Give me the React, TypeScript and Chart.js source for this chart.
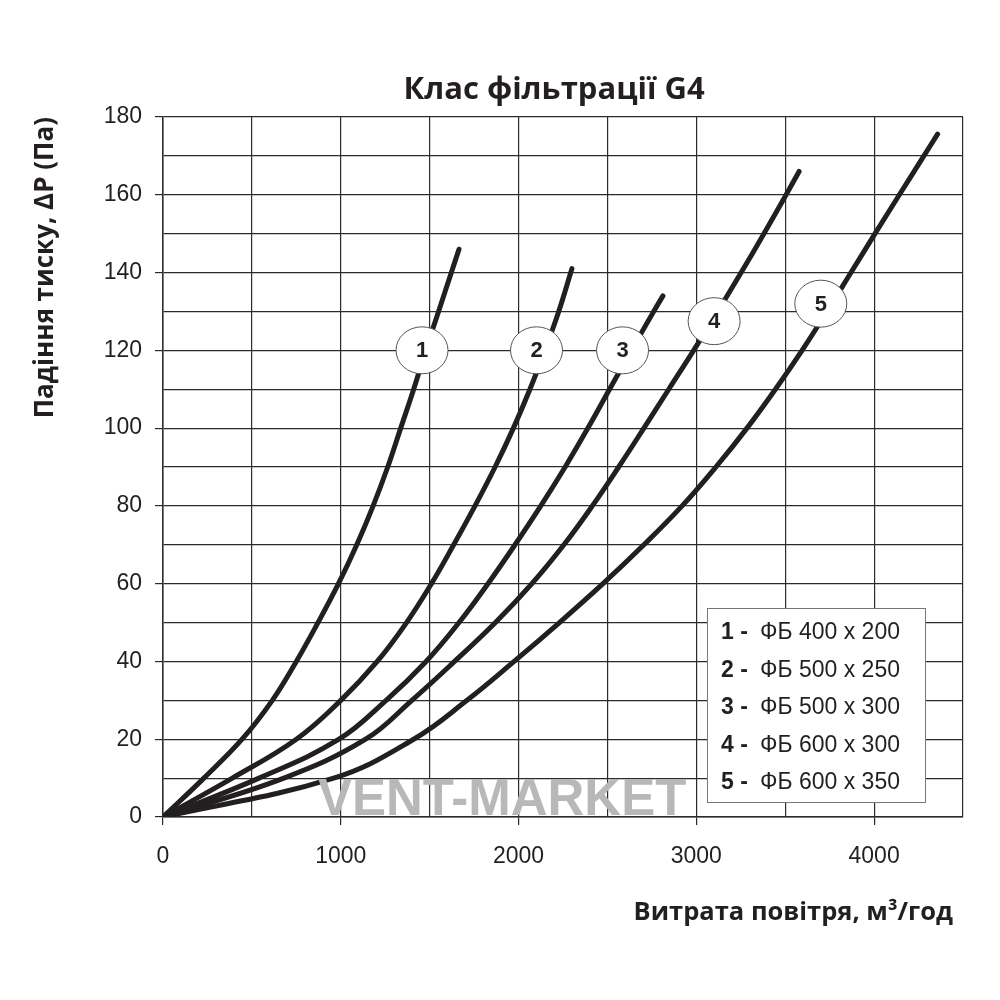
import React, { useEffect, useRef } from "react";
import { Chart, registerables } from "chart.js";

Chart.register(...registerables);

// ---- data ----
const curve1X = [0, 230, 445, 615, 750, 872, 987, 1090, 1182, 1264, 1337, 1410, 1478, 1550, 1622, 1665];
const curve1Y = [0, 10, 20, 30, 40, 50, 60, 70, 80, 90, 100, 110, 120, 130, 140, 146];

const curve2X = [0, 390, 750, 1000, 1205, 1370, 1510, 1635, 1755, 1868, 1971, 2064, 2148, 2226, 2300];
const curve2Y = [0, 10, 20, 30, 40, 50, 60, 70, 80, 90, 100, 110, 120, 130, 141];

const curve3X = [0, 540, 990, 1255, 1480, 1665, 1828, 1980, 2125, 2262, 2390, 2512, 2635, 2760, 2812];
const curve3Y = [0, 10, 20, 30, 40, 50, 60, 70, 80, 90, 100, 110, 120, 130, 134];

const curve4X = [0, 680, 1140, 1400, 1640, 1870, 2075, 2255, 2415, 2563, 2705, 2845, 2985, 3120, 3252, 3380, 3505, 3578];
const curve4Y = [0, 10, 20, 30, 40, 50, 60, 70, 80, 90, 100, 110, 120, 130, 140, 150, 160, 166];

const curve5X = [0, 960, 1410, 1710, 1975, 2230, 2475, 2705, 2920, 3110, 3285, 3445, 3595, 3735, 3870, 4005, 4142, 4280, 4357];
const curve5Y = [0, 10, 20, 30, 40, 50, 60, 70, 80, 90, 100, 110, 120, 130, 140, 150, 160, 170, 175.6];

const curvesX = [curve1X, curve2X, curve3X, curve4X, curve5X];
const curvesY = [curve1Y, curve2Y, curve3Y, curve4Y, curve5Y];

const seriesNumbers = ["1", "2", "3", "4", "5"];
const legendLabels = ["ФБ 400 х 200", "ФБ 500 х 250", "ФБ 500 х 300", "ФБ 600 х 300", "ФБ 600 х 350"];
const markerX = [1457, 2101, 2585, 3100, 3700];
const markerY = [120, 120, 120, 127.5, 132];

const chartTitle = "Клас фільтрації G4";
const xTitle = "Витрата повітря, м³/год";
const yTitle = "Падіння тиску, ΔР (Па)";
const watermarkText = "VENT-MARKET";

const xMin = 0;
const xMax = 4500;
const xGridStep = 500;
const xLabelStep = 1000;
const yMin = 0;
const yMax = 180;
const yGridStep = 10;
const yLabelStep = 20;

// ---- styles ----
const INK = "#231f20";
const GRID = "#2b2b2b";
const ARIAL = "'Liberation Sans', Arial, sans-serif";
const HEAD = "'Open Sans', 'Noto Sans', sans-serif";

const overlayPlugin = {
  id: "overlay",
  afterDraw(chart: any) {
    const { ctx, chartArea } = chart;
    const xs = chart.scales.x;
    const ys = chart.scales.y;
    ctx.save();

    // title
    ctx.fillStyle = INK;
    ctx.font = `bold 31px ${HEAD}`;
    ctx.textAlign = "center";
    ctx.textBaseline = "alphabetic";
    ctx.fillText(chartTitle, 554, 99);

    // x axis title
    ctx.font = `bold 25.5px ${HEAD}`;
    ctx.textAlign = "right";
    ctx.fillText(xTitle, chartArea.right - 10, 920);

    // watermark
    ctx.font = `bold 51px ${ARIAL}`;
    ctx.fillStyle = "#b8b8b8";
    ctx.textAlign = "left";
    ctx.fillText(watermarkText, chartArea.left + 155, chartArea.bottom - 2);

    // number markers
    for (let i = 0; i < seriesNumbers.length; i++) {
      const px = xs.getPixelForValue(markerX[i]);
      const py = ys.getPixelForValue(markerY[i]);
      ctx.beginPath();
      ctx.ellipse(px, py, 26, 23.5, 0, 0, Math.PI * 2);
      ctx.fillStyle = "#ffffff";
      ctx.fill();
      ctx.lineWidth = 1;
      ctx.strokeStyle = "#555555";
      ctx.stroke();
      ctx.fillStyle = INK;
      ctx.font = `bold 22px ${ARIAL}`;
      ctx.textAlign = "center";
      ctx.textBaseline = "middle";
      ctx.fillText(seriesNumbers[i], px, py + 1);
    }

    // legend box
    const bx = chartArea.right - 256;
    const by = chartArea.bottom - 209;
    const bw = 218;
    const bh = 194;
    ctx.fillStyle = "#ffffff";
    ctx.fillRect(bx, by, bw, bh);
    ctx.lineWidth = 1;
    ctx.strokeStyle = "#777777";
    ctx.strokeRect(bx + 0.5, by + 0.5, bw, bh);
    ctx.textBaseline = "alphabetic";
    ctx.textAlign = "left";
    for (let i = 0; i < legendLabels.length; i++) {
      const ty = by + 31 + i * 37.5;
      ctx.fillStyle = INK;
      ctx.font = `bold 23px ${ARIAL}`;
      ctx.fillText(seriesNumbers[i] + " -", bx + 14, ty);
      ctx.font = `23px ${ARIAL}`;
      ctx.fillText(legendLabels[i], bx + 53, ty);
    }
    ctx.restore();
  },
};

export default function App() {
  const canvasRef = useRef<HTMLCanvasElement | null>(null);

  useEffect(() => {
    if (!canvasRef.current) return;
    const datasets = curvesX.map((xs, i) => ({
      label: seriesNumbers[i],
      data: xs.map((x, j) => ({ x, y: curvesY[i][j] })),
      showLine: true,
      borderColor: INK,
      backgroundColor: INK,
      borderWidth: 5,
      pointRadius: 0,
      tension: 0.4,
      borderCapStyle: "round" as const,
      borderJoinStyle: "round" as const,
    }));

    const chart = new Chart(canvasRef.current, {
      type: "scatter",
      data: { datasets },
      plugins: [overlayPlugin],
      options: {
        responsive: false,
        animation: false,
        devicePixelRatio: 1,
        layout: { padding: { top: 117, right: 37, left: 0, bottom: 0 } },
        plugins: {
          legend: { display: false },
          tooltip: { enabled: false },
          title: { display: false },
        },
        scales: {
          x: {
            type: "linear",
            min: xMin,
            max: xMax,
            afterFit: (scale: any) => {
              scale.height = 183;
            },
            ticks: {
              stepSize: xGridStep,
              autoSkip: false,
              maxRotation: 0,
              padding: 18,
              color: INK,
              font: { family: ARIAL, size: 23 },
              callback: (v: any) => (Number(v) % xLabelStep === 0 ? String(v) : ""),
            },
            grid: {
              color: GRID,
              lineWidth: 1.2,
              tickLength: 8,
              tickColor: (c: any) => (c.tick && c.tick.value % xLabelStep === 0 ? GRID : "rgba(0,0,0,0)"),
            },
            border: { color: GRID, width: 1.5 },
            title: { display: false, text: xTitle },
          },
          y: {
            type: "linear",
            min: yMin,
            max: yMax,
            afterFit: (scale: any) => {
              scale.width = 163;
            },
            ticks: {
              stepSize: yGridStep,
              autoSkip: false,
              padding: 13,
              color: INK,
              font: { family: ARIAL, size: 23 },
              callback: (v: any) => (Number(v) % yLabelStep === 0 ? String(v) : ""),
            },
            grid: {
              color: GRID,
              lineWidth: 1.2,
              tickLength: 8,
              tickColor: (c: any) => (c.tick && c.tick.value % yLabelStep === 0 ? GRID : "rgba(0,0,0,0)"),
            },
            border: { color: GRID, width: 1.5 },
            title: {
              display: true,
              text: yTitle,
              align: "end",
              color: INK,
              font: { family: HEAD, size: 26, weight: "bold" },
              padding: { top: 30, bottom: 0 },
            },
          },
        },
      },
    });
    return () => chart.destroy();
  }, []);

  return (
    <div style={{ position: "absolute", left: 0, top: 0, width: 1000, height: 1000, background: "#ffffff" }}>
      <canvas ref={canvasRef} width={1000} height={1000} />
    </div>
  );
}
